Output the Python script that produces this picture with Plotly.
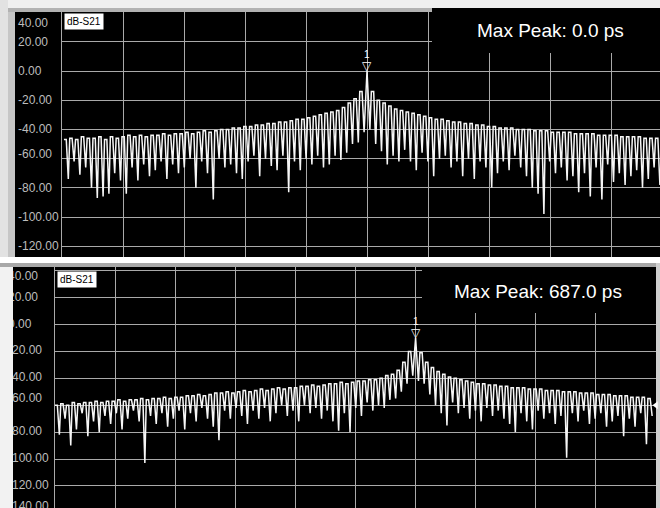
import plotly.graph_objects as go

W, H = 660, 508

# ---------------- data ----------------
db_ticks = [40, 20, 0, -20, -40, -60, -80, -100, -120, -140]
db_tick_labels = ["40.00", "20.00", "0.00", "-20.00", "-40.00", "-60.00",
                  "-80.00", "-100.00", "-120.00", "-140.00"]

top_title = "Max Peak: 0.0 ps"
bot_title = "Max Peak: 687.0 ps"
trace_name = "dB-S21"
marker_name = "1"
ref_level = -60

# upper screenshot (dB, lobe maxima / following minima)
top_peaks_left = [-47, -46, -47, -45, -46, -46, -45, -47, -45, -46,
                  -45, -44, -45, -44, -45, -44, -44, -43, -44, -43,
                  -43, -42, -43, -42, -41, -42, -41, -40, -40, -39,
                  -39, -38, -38, -37, -37, -36, -36, -35, -35, -34,
                  -33, -33, -32, -31, -30, -29, -28, -27, -25, -22,
                  -19, -14]
top_dips_left = [-74, -62, -71, -66, -80, -87, -86, -84, -70, -75,
                 -84, -66, -75, -64, -72, -68, -62, -74, -64, -70,
                 -66, -60, -80, -62, -70, -88, -60, -66, -64, -70,
                 -74, -62, -58, -72, -60, -65, -68, -58, -83, -62,
                 -68, -60, -64, -58, -66, -64, -58, -61, -56, -50,
                 -49, -42]
top_main_peak = 0.0
top_main_dip = -40
top_peaks_right = [-14, -20, -22, -24, -26, -27, -28, -29, -30, -31,
                   -32, -33, -33, -34, -35, -35, -36, -36, -37, -37,
                   -38, -38, -39, -39, -39, -40, -40, -40, -41, -41,
                   -41, -42, -42, -42, -42, -43, -43, -43, -43, -44,
                   -44, -44, -44, -45, -45, -45, -45, -46, -46, -46]
top_dips_right = [-50, -55, -64, -58, -62, -54, -62, -68, -56, -62,
                  -72, -60, -58, -66, -62, -72, -60, -74, -62, -66,
                  -80, -70, -62, -68, -58, -66, -72, -80, -84, -98,
                  -62, -70, -66, -75, -72, -83, -70, -86, -66, -88,
                  -64, -76, -70, -78, -72, -68, -80, -74, -66, -78]

# lower screenshot
bot_peaks_left = [-60, -59, -60, -58, -59, -58, -58, -57, -58, -57,
                  -57, -56, -57, -56, -56, -55, -56, -55, -55, -54,
                  -55, -54, -54, -53, -53, -52, -53, -52, -51, -51,
                  -50, -51, -50, -49, -50, -49, -48, -49, -48, -47,
                  -48, -47, -47, -46, -46, -45, -46, -45, -44, -44,
                  -43, -44, -43, -42, -42, -41, -41, -40, -38, -37,
                  -34, -28, -20]
bot_dips_left = [-82, -70, -90, -78, -66, -83, -72, -80, -68, -74,
                 -66, -78, -70, -64, -72, -103, -68, -74, -66, -76,
                 -70, -64, -78, -66, -72, -62, -70, -76, -86, -64,
                 -70, -62, -68, -74, -64, -70, -62, -72, -66, -60,
                 -68, -64, -72, -60, -66, -62, -70, -64, -72, -79,
                 -66, -80, -62, -68, -58, -64, -60, -62, -56, -55,
                 -50, -44, -38]
bot_main_peak = -10.0
bot_main_dip = -42
bot_peaks_right = [-21, -28, -32, -35, -37, -39, -40, -41, -42, -43,
                   -44, -44, -45, -45, -46, -46, -47, -47, -47, -48,
                   -48, -48, -49, -49, -49, -50, -50, -50, -51, -51,
                   -51, -52, -52, -52, -53, -53, -53, -54, -54, -54,
                   -55]
bot_dips_right = [-44, -52, -60, -66, -75, -58, -66, -62, -70, -64,
                  -72, -62, -68, -64, -70, -74, -80, -66, -72, -78,
                  -64, -70, -66, -74, -68, -99, -66, -72, -64, -74,
                  -70, -66, -76, -72, -68, -83, -70, -76, -66, -89,
                  -68]

# ---------------- layout helpers (pixels) ----------------
TOP_L, TOP_T, TOP_B, TOP_R = 62, 12, 257, 660
BOT_L, BOT_T, BOT_B, BOT_R = 55, 267, 508, 656
TOP_DIV = 61.0
BOT_DIV = 60.1
TOP_DB_PX = 29.2 / 20
BOT_DB_PX = 26.9 / 20
TOP_ZERO_Y = 71
BOT_ZERO_Y = 324.5

top_yrange = [-(TOP_B - TOP_ZERO_Y) / TOP_DB_PX, (TOP_ZERO_Y - TOP_T) / TOP_DB_PX]
bot_yrange = [-(BOT_B - BOT_ZERO_Y) / BOT_DB_PX, (BOT_ZERO_Y - BOT_T) / BOT_DB_PX]
top_xrange = [0, (TOP_R - TOP_L) / TOP_DIV]
bot_xrange = [0, (BOT_R - BOT_L) / BOT_DIV]


def fx(px):
    return px / W


def fy(py):
    return 1 - py / H


def build_trace(pl, dl, mp, md, pr, dr, center, pitch):
    peaks = pl + [mp] + pr
    dips = dl + [md] + dr
    kp = len(pl)
    xs, ys = [], []
    for k, (p, d) in enumerate(zip(peaks, dips)):
        xc = center + (k - kp) * pitch
        if k == kp:
            xs.append(xc)
            ys.append(p)
        else:
            xs += [xc - 0.25 * pitch, xc + 0.15 * pitch]
            ys += [p, p]
        xs.append(xc + 0.5 * pitch)
        ys.append(d)
    return xs, ys


top_pitch = 5.8 / TOP_DIV
bot_pitch = 5.7 / BOT_DIV
top_center = 5.0
bot_center = 6.0

tx, ty = build_trace(top_peaks_left, top_dips_left, top_main_peak, top_main_dip,
                     top_peaks_right, top_dips_right, top_center, top_pitch)
bx, by = build_trace(bot_peaks_left, bot_dips_left, bot_main_peak, bot_main_dip,
                     bot_peaks_right, bot_dips_right, bot_center, bot_pitch)

GRID = "#a9a9a9"
TRACE = "#f6f6f6"
LABEL = "#bdbdbd"
FONT = "Liberation Sans, Arial, sans-serif"

fig = go.Figure()

fig.add_trace(go.Scatter(x=tx, y=ty, mode="lines", line=dict(color=TRACE, width=1.5),
                         xaxis="x", yaxis="y", hoverinfo="skip"))
fig.add_trace(go.Scatter(x=bx, y=by, mode="lines", line=dict(color=TRACE, width=1.5),
                         xaxis="x2", yaxis="y2", hoverinfo="skip"))


def positions(ticks):
    out = []
    for t in ticks:
        if t == 40:
            out.append("bottom right")
        elif t in (-60, -140):
            out.append("top right")
        else:
            out.append("middle right")
    return out


# lower scale labels: clipped at the left edge of the lower screenshot
fig.add_trace(go.Scatter(x=[8] * len(db_ticks), y=db_ticks, text=db_tick_labels, mode="text",
                         textposition=positions(db_ticks),
                         textfont=dict(color=LABEL, size=12, family=FONT),
                         cliponaxis=True, xaxis="x4", yaxis="y4", hoverinfo="skip"))

# reference-level triangles
fig.add_trace(go.Scatter(x=[-0.05], y=[ref_level], mode="markers",
                         marker=dict(symbol="triangle-right", size=7, color="white"),
                         cliponaxis=False, xaxis="x", yaxis="y", hoverinfo="skip"))
fig.add_trace(go.Scatter(x=[-0.05], y=[ref_level], mode="markers",
                         marker=dict(symbol="triangle-right", size=7, color="white"),
                         cliponaxis=False, xaxis="x2", yaxis="y2", hoverinfo="skip"))
fig.add_trace(go.Scatter(x=[bot_xrange[1]], y=[ref_level], mode="markers",
                         marker=dict(symbol="triangle-left", size=7, color="white"),
                         cliponaxis=False, xaxis="x2", yaxis="y2", hoverinfo="skip"))

ax_common = dict(showgrid=True, gridcolor=GRID, gridwidth=1.2, zeroline=False,
                 showticklabels=False, ticks="", fixedrange=True)
hidden = dict(visible=False, fixedrange=True)

fig.update_layout(
    width=W, height=H,
    margin=dict(l=0, r=0, t=0, b=0),
    paper_bgcolor="white",
    plot_bgcolor="black",
    showlegend=False,
    hovermode=False,
    xaxis=dict(domain=[fx(TOP_L), fx(TOP_R)], range=top_xrange, dtick=1, tick0=0,
               anchor="y", **ax_common),
    yaxis=dict(domain=[fy(TOP_B), fy(TOP_T)], range=top_yrange, dtick=20, tick0=0,
               anchor="x", showline=True, linecolor=GRID, linewidth=1.2, **ax_common),
    xaxis2=dict(domain=[fx(BOT_L), fx(BOT_R)], range=bot_xrange, dtick=1, tick0=0,
                anchor="y2", **ax_common),
    yaxis2=dict(domain=[fy(BOT_B), fy(BOT_T)], range=bot_yrange, dtick=20, tick0=0,
                anchor="x2", showline=True, linecolor=GRID, linewidth=1.2, **ax_common),
    xaxis4=dict(domain=[fx(13), fx(BOT_L)], range=[13, BOT_L], anchor="y4", **hidden),
    yaxis4=dict(domain=[fy(BOT_B), fy(BOT_T)], range=bot_yrange, anchor="x4", **hidden),
)


def rect(x0, y0, x1, y1, color, layer="below"):
    return dict(type="rect", xref="paper", yref="paper",
                x0=fx(x0), x1=fx(x1), y0=fy(y1), y1=fy(y0),
                fillcolor=color, line=dict(width=0), layer=layer)


shapes = [
    rect(0, 0, 660, 8, "#efefef"),
    rect(0, 0, 8, 257, "#e2e2e2"),
    rect(8, 8, 15, 257, "#c6c6c6"),
    rect(8, 8, 660, 12, "#b2b2b2"),
    rect(15, 12, 660, 257, "black"),
    rect(0, 257, 660, 263, "white"),
    rect(0, 263, 660, 267, "#a8a8a8"),
    rect(0, 267, 13, 508, "#f2f2f2"),
    rect(13, 267, 656, 508, "black"),
    rect(656, 263, 660, 508, "#cfcfcf"),
    rect(432, 8, 660, 53, "black", "above"),
    rect(422, 267, 656, 313, "black", "above"),
]
fig.update_layout(shapes=shapes)

annotations = []
# upper scale labels
top_shift = {40: -10, -60: 5}
for t, lab in zip(db_ticks[:-1], db_tick_labels[:-1]):
    annotations.append(dict(xref="paper", yref="y", x=fx(16), y=t, xanchor="left",
                            yanchor="middle", text=lab, showarrow=False,
                            yshift=top_shift.get(t, 0),
                            font=dict(color=LABEL, size=12, family=FONT)))

annotations += [
    dict(xref="paper", yref="paper", x=fx(64), y=fy(13), xanchor="left", yanchor="top",
         text=trace_name, showarrow=False, bgcolor="white", borderpad=2,
         font=dict(color="black", size=10, family=FONT)),
    dict(xref="paper", yref="paper", x=fx(57), y=fy(271), xanchor="left", yanchor="top",
         text=trace_name, showarrow=False, bgcolor="white", borderpad=2,
         font=dict(color="black", size=10, family=FONT)),
    dict(xref="paper", yref="paper", x=fx(550), y=fy(30), xanchor="center", yanchor="middle",
         text=top_title, showarrow=False, font=dict(color="white", size=19, family=FONT)),
    dict(xref="paper", yref="paper", x=fx(538), y=fy(291), xanchor="center", yanchor="middle",
         text=bot_title, showarrow=False, font=dict(color="white", size=19, family=FONT)),
]
# peak markers
for xr, yr, xc, pk in (("x", "y", top_center, top_main_peak),
                       ("x2", "y2", bot_center, bot_main_peak)):
    annotations.append(dict(xref=xr, yref=yr, x=xc, y=pk, xanchor="center", yanchor="bottom",
                            text="▽", showarrow=False, yshift=-4,
                            font=dict(color="white", size=12, family="DejaVu Sans")))
    annotations.append(dict(xref=xr, yref=yr, x=xc, y=pk, xanchor="center", yanchor="bottom",
                            text=marker_name, showarrow=False, yshift=9,
                            font=dict(color="white", size=10, family=FONT)))
fig.update_layout(annotations=annotations)

fig.write_html("out.html", config={"displayModeBar": False},
               post_script="document.body.style.margin='0px';document.body.style.padding='0px';")
